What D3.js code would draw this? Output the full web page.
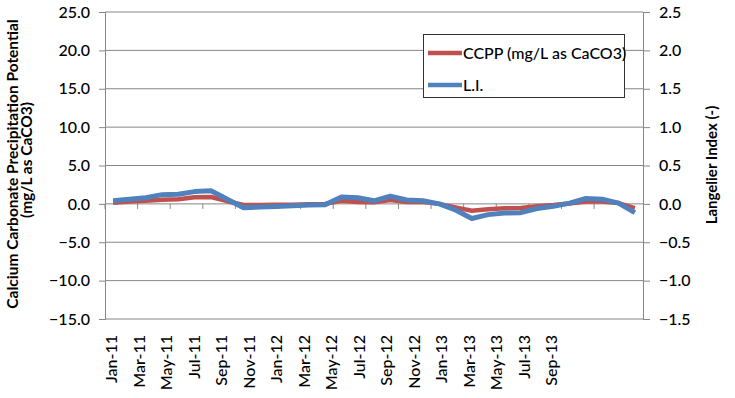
<!DOCTYPE html>
<html>
<head>
<meta charset="utf-8">
<script src="https://cdn.jsdelivr.net/npm/d3@7"></script>
<style>
  body { margin: 0; background: #fff; }
  text { font-family: Lato, "Open Sans", sans-serif; fill: #000; }
</style>
</head>
<body>
<svg id="chart"></svg>
<script>
// monthly series, Jan-11 .. Sep-13
var months = ['Jan-11','Feb-11','Mar-11','Apr-11','May-11','Jun-11','Jul-11','Aug-11','Sep-11','Oct-11','Nov-11','Dec-11',
              'Jan-12','Feb-12','Mar-12','Apr-12','May-12','Jun-12','Jul-12','Aug-12','Sep-12','Oct-12','Nov-12','Dec-12',
              'Jan-13','Feb-13','Mar-13','Apr-13','May-13','Jun-13','Jul-13','Aug-13','Sep-13'];
var ccpp = [0.15, 0.3, 0.4, 0.55, 0.6, 0.85, 0.9, 0.35, -0.15, -0.15, -0.1, -0.1,
            -0.05, 0.0, 0.4, 0.25, 0.2, 0.5, 0.25, 0.25, 0.0, -0.45, -0.9, -0.7,
            -0.57, -0.55, -0.3, -0.15, 0.05, 0.3, 0.3, 0.1, -0.57];
var li = [0.04, 0.06, 0.08, 0.12, 0.125, 0.16, 0.17, 0.06, -0.05, -0.04, -0.035, -0.025,
          -0.015, -0.01, 0.09, 0.08, 0.04, 0.1, 0.05, 0.04, 0.0, -0.08, -0.19, -0.14,
          -0.12, -0.115, -0.06, -0.03, 0.01, 0.07, 0.06, 0.01, -0.115];
var tickLabels = ['Jan-11','Mar-11','May-11','Jul-11','Sep-11','Nov-11','Jan-12','Mar-12','May-12',
                  'Jul-12','Sep-12','Nov-12','Jan-13','Mar-13','May-13','Jul-13','Sep-13'];
var leftTicks = [-15, -10, -5, 0, 5, 10, 15, 20, 25];
var rightTicks = [-1.5, -1.0, -0.5, 0.0, 0.5, 1.0, 1.5, 2.0, 2.5];

var W = 735, H = 398;
var L = 105, R = 643, T = 12, B = 319;
var grey = '#868686';

var svg = d3.select('#chart').attr('width', W).attr('height', H);

var x = d3.scaleBand().domain(months).range([L, R]);
var bw = x.bandwidth();
var xl = d3.scalePoint().domain(tickLabels).range([111.7, 551.7]);
var yL = d3.scaleLinear().domain([-15, 25]).range([B, T]);
var yR = d3.scaleLinear().domain([-1.5, 2.5]).range([B, T]);

// gridlines
svg.append('g')
  .selectAll('line')
  .data(leftTicks)
  .enter()
  .append('line')
  .attr('x1', L).attr('x2', R)
  .attr('y1', function(d) { return yL(d); })
  .attr('y2', function(d) { return yL(d); })
  .attr('stroke', grey).attr('stroke-width', 1);

// left axis
var axL = svg.append('g')
  .attr('transform', 'translate(' + L + ',0)')
  .call(d3.axisLeft(yL).tickValues(leftTicks).tickSize(6).tickPadding(9)
    .tickFormat(d3.format('.1f')));
axL.select('.domain').attr('stroke', grey);
axL.selectAll('.tick line').attr('stroke', grey);
axL.selectAll('text').style('font-size', '16px').style('font-weight', 500).attr('fill', '#000');

// right axis
var axR = svg.append('g')
  .attr('transform', 'translate(' + R + ',0)')
  .call(d3.axisRight(yR).tickValues(rightTicks).tickSize(7).tickPadding(9)
    .tickFormat(d3.format('.1f')));
axR.select('.domain').attr('stroke', grey);
axR.selectAll('.tick line').attr('stroke', grey);
axR.selectAll('text').style('font-size', '16px').style('font-weight', 500).attr('fill', '#000');

// category axis sits on zero
var tickIdx = d3.range(0, months.length + 1, 2);
svg.append('g')
  .selectAll('line')
  .data(tickIdx)
  .enter()
  .append('line')
  .attr('x1', function(i) { return L + i * bw; })
  .attr('x2', function(i) { return L + i * bw; })
  .attr('y1', yL(0)).attr('y2', yL(0) + 5)
  .attr('stroke', grey);

svg.append('g')
  .selectAll('text')
  .data(tickLabels)
  .enter()
  .append('text')
  .attr('transform', function(d) { return 'translate(' + (xl(d) + 5.5) + ',335) rotate(-90)'; })
  .attr('text-anchor', 'end')
  .style('font-size', '16px').style('font-weight', 500)
  .text(function(d) { return d; });

// series
var lineL = d3.line()
  .x(function(d, i) { return x(months[i]) + bw / 2; })
  .y(function(d) { return yL(d); });
var lineR = d3.line()
  .x(function(d, i) { return x(months[i]) + bw / 2; })
  .y(function(d) { return yR(d); });

svg.append('path').datum(ccpp)
  .attr('d', lineL)
  .attr('fill', 'none').attr('stroke', '#C0504D').attr('stroke-width', 4.5)
  .attr('stroke-linejoin', 'round');
svg.append('path').datum(li)
  .attr('d', lineR)
  .attr('fill', 'none').attr('stroke', '#4F81BD').attr('stroke-width', 5)
  .attr('stroke-linejoin', 'round');

// axis titles
svg.append('text')
  .attr('transform', 'translate(17.5,164) rotate(-90)')
  .attr('text-anchor', 'middle')
  .style('font-size', '15.5px').style('font-weight', 'bold')
  .text('Calcium Carbonate Precipitation Potential');
svg.append('text')
  .attr('transform', 'translate(32,160) rotate(-90)')
  .attr('text-anchor', 'middle')
  .style('font-size', '15.5px').style('font-weight', 'bold')
  .text('(mg/L as CaCO3)');
svg.append('text')
  .attr('transform', 'translate(716.5,165) rotate(-90)')
  .attr('text-anchor', 'middle')
  .style('font-size', '15px').style('font-weight', 'bold')
  .text('Langelier Index (-)');

// legend
var leg = svg.append('g');
leg.append('rect')
  .attr('x', 423.5).attr('y', 34.5).attr('width', 201).attr('height', 63)
  .attr('fill', '#fff').attr('stroke', '#333');
var legItems = [['CCPP (mg/L as CaCO3)', '#C0504D'], ['L.I.', '#4F81BD']];
leg.selectAll('g.item')
  .data(legItems)
  .enter()
  .append('g')
  .attr('class', 'item')
  .each(function(d, i) {
    var g = d3.select(this), yy = 53 + i * 32;
    g.append('line').attr('x1', 428).attr('x2', 462).attr('y1', yy).attr('y2', yy)
      .attr('stroke', d[1]).attr('stroke-width', 4.5);
    g.append('text').attr('x', 463).attr('y', yy + 5.5)
      .style('font-size', '16px').style('font-weight', 500).text(d[0]);
  });
</script>
</body>
</html>
